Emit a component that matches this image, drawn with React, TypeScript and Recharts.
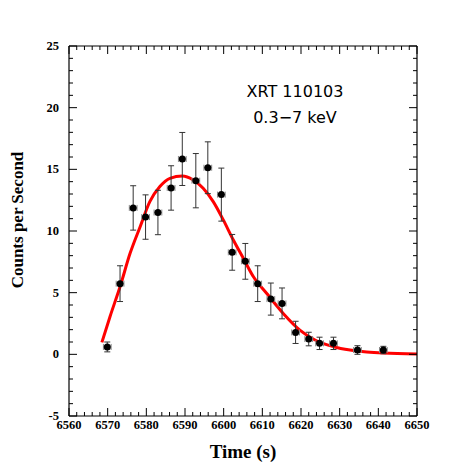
import React from 'react';
import { ComposedChart, XAxis, YAxis, Line, Scatter, ErrorBar } from 'recharts';

// Observed light-curve points
const timeS = [6569.9, 6573.2, 6576.6, 6579.8, 6583.0, 6586.4, 6589.3, 6592.8, 6595.9, 6599.4, 6602.2, 6605.6, 6608.8, 6612.2, 6615.1, 6618.6, 6622.0, 6624.8, 6628.4, 6634.6, 6641.3];
const rate = [0.6, 5.73, 11.87, 11.13, 11.5, 13.49, 15.84, 14.08, 15.13, 12.95, 8.27, 7.54, 5.73, 4.48, 4.13, 1.78, 1.24, 0.89, 0.89, 0.35, 0.35];
const rateErr = [0.4, 1.45, 1.8, 1.8, 1.8, 1.8, 2.15, 2.2, 2.1, 2.15, 1.45, 1.45, 1.45, 1.3, 1.25, 0.9, 0.55, 0.5, 0.5, 0.35, 0.3];
const timeErr = [1.0, 1.0, 1.0, 1.0, 1.0, 1.0, 1.0, 1.0, 1.0, 1.0, 1.0, 1.0, 1.0, 1.0, 1.0, 1.0, 1.0, 1.0, 1.0, 1.0, 1.0];

// Fitted model curve
const fitTime = [6568.5, 6570.6, 6573.2, 6575.8, 6578.4, 6580.9, 6583.5, 6586.1, 6589.3, 6592.1, 6594.7, 6597.3, 6599.9, 6602.5, 6605.1, 6607.7, 6611.1, 6615.4, 6619.7, 6624.0, 6628.4, 6632.7, 6637.0, 6641.3, 6650];
const fitRate = [0.97, 3.05, 5.48, 8.19, 10.35, 12.38, 13.6, 14.27, 14.46, 14.14, 13.46, 12.38, 10.9, 9.27, 7.78, 6.29, 4.95, 3.32, 1.97, 1.1, 0.62, 0.35, 0.19, 0.1, 0.03];

// Tick values
const xTicks = [6560, 6562, 6564, 6566, 6568, 6570, 6572, 6574, 6576, 6578, 6580, 6582, 6584, 6586, 6588, 6590, 6592, 6594, 6596, 6598, 6600, 6602, 6604, 6606, 6608, 6610, 6612, 6614, 6616, 6618, 6620, 6622, 6624, 6626, 6628, 6630, 6632, 6634, 6636, 6638, 6640, 6642, 6644, 6646, 6648, 6650];
const yTicks = [-5, -4, -3, -2, -1, 0, 1, 2, 3, 4, 5, 6, 7, 8, 9, 10, 11, 12, 13, 14, 15, 16, 17, 18, 19, 20, 21, 22, 23, 24, 25];

const points = timeS.map((x, i) => ({ x, y: rate[i], yerr: rateErr[i], xerr: timeErr[i] }));
const fitData = fitTime.map((x, i) => ({ x, fit: fitRate[i] }));

const SERIF = '"Liberation Serif", "Times New Roman", serif';
const SANS = '"DejaVu Sans", sans-serif';

const BottomTick = (props: any) => {
  const { x, y, payload } = props;
  const v = payload.value;
  const major = v % 10 === 0;
  return (
    <g>
      <line x1={x} y1={y} x2={x} y2={y - (major ? 8 : 4)} stroke="#000" strokeWidth={1} />
      {major && (
        <text x={x} y={y + 13} textAnchor="middle" fontFamily={SERIF} fontWeight="bold" fontSize={12.5} fill="#000">
          {v}
        </text>
      )}
    </g>
  );
};

const TopTick = (props: any) => {
  const { x, y, payload } = props;
  const major = payload.value % 10 === 0;
  return <line x1={x} y1={y} x2={x} y2={y + (major ? 8 : 4)} stroke="#000" strokeWidth={1} />;
};

const LeftTick = (props: any) => {
  const { x, y, payload } = props;
  const v = payload.value;
  const major = v % 5 === 0;
  return (
    <g>
      <line x1={x} y1={y} x2={x + (major ? 8 : 4)} y2={y} stroke="#000" strokeWidth={1} />
      {major && (
        <text x={x - 10} y={y + 4} textAnchor="end" fontFamily={SERIF} fontWeight="bold" fontSize={12.5} fill="#000">
          {v}
        </text>
      )}
    </g>
  );
};

const RightTick = (props: any) => {
  const { x, y, payload } = props;
  const major = payload.value % 5 === 0;
  return <line x1={x} y1={y} x2={x - (major ? 8 : 4)} y2={y} stroke="#000" strokeWidth={1} />;
};

const Dot = (props: any) => {
  const { cx, cy } = props;
  return <circle cx={cx} cy={cy} r={3.5} fill="#000" />;
};

export default function App() {
  return (
    <div style={{ position: 'absolute', left: 0, top: 0, width: 463, height: 463, background: '#fff' }}>
      <ComposedChart width={463} height={463} margin={{ top: 0, right: 0, bottom: 0, left: 0 }}>
        <XAxis
          xAxisId="b"
          dataKey="x"
          type="number"
          orientation="bottom"
          domain={[6560, 6650]}
          ticks={xTicks}
          interval={0}
          height={47}
          tickSize={0}
          tickMargin={0}
          tickLine={false}
          axisLine={{ stroke: '#000', strokeWidth: 1.2 }}
          tick={<BottomTick />}
          allowDataOverflow
        />
        <XAxis
          xAxisId="t"
          dataKey="x"
          type="number"
          orientation="top"
          domain={[6560, 6650]}
          ticks={xTicks}
          interval={0}
          height={46}
          tickSize={0}
          tickMargin={0}
          tickLine={false}
          axisLine={{ stroke: '#000', strokeWidth: 1.2 }}
          tick={<TopTick />}
          allowDataOverflow
        />
        <YAxis
          yAxisId="l"
          type="number"
          orientation="left"
          domain={[-5, 25]}
          ticks={yTicks}
          interval={0}
          width={69}
          tickSize={0}
          tickMargin={0}
          tickLine={false}
          axisLine={{ stroke: '#000', strokeWidth: 1.2 }}
          tick={<LeftTick />}
          allowDataOverflow
        />
        <YAxis
          yAxisId="r"
          type="number"
          orientation="right"
          domain={[-5, 25]}
          ticks={yTicks}
          interval={0}
          width={46}
          tickSize={0}
          tickMargin={0}
          tickLine={false}
          axisLine={{ stroke: '#000', strokeWidth: 1.2 }}
          tick={<RightTick />}
          allowDataOverflow
        />
        <Line
          xAxisId="b"
          yAxisId="l"
          data={fitData}
          dataKey="fit"
          type="monotone"
          stroke="#ff0000"
          strokeWidth={3}
          dot={false}
          activeDot={false}
          isAnimationActive={false}
        />
        <Scatter
          xAxisId="b"
          yAxisId="l"
          data={points}
          dataKey="y"
          shape={<Dot />}
          isAnimationActive={false}
        >
          <ErrorBar dataKey="yerr" direction="y" width={3} stroke="#333" strokeWidth={1} isAnimationActive={false} />
          <ErrorBar dataKey="xerr" direction="x" width={3} stroke="#888" strokeWidth={1} isAnimationActive={false} />
        </Scatter>
      </ComposedChart>
      <svg width={463} height={463} style={{ position: 'absolute', left: 0, top: 0, pointerEvents: 'none' }}>
        <text x={243} y={458} textAnchor="middle" fontFamily={SERIF} fontWeight="bold" fontSize={19} fill="#000">
          Time (s)
        </text>
        <text
          x={0}
          y={0}
          transform="translate(23,220) rotate(-90)"
          textAnchor="middle"
          fontFamily={SERIF}
          fontWeight="bold"
          fontSize={17}
          fill="#000"
        >
          Counts per Second
        </text>
        <text x={295} y={97} textAnchor="middle" fontFamily={SANS} fontSize={16} fill="#000">
          XRT 110103
        </text>
        <text x={295} y={123} textAnchor="middle" fontFamily={SANS} fontSize={16} fill="#000">
          0.3−7 keV
        </text>
      </svg>
    </div>
  );
}
